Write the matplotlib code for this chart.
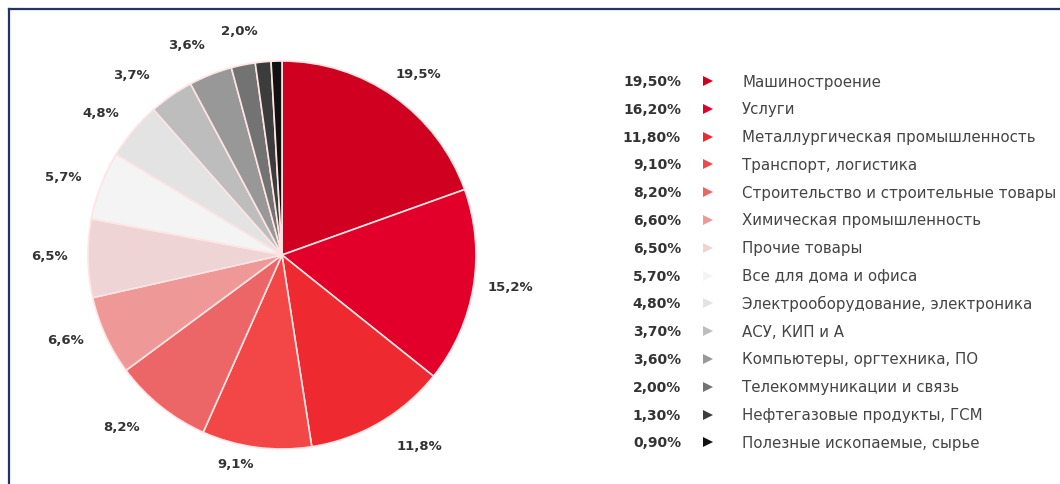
import matplotlib
matplotlib.use("Agg")
import matplotlib.pyplot as plt
from matplotlib.lines import Line2D
import numpy as np

plt.rcParams['font.family'] = ['DejaVu Sans']

# ---- data ----
categories = [
    "Машиностроение",
    "Услуги",
    "Металлургическая промышленность",
    "Транспорт, логистика",
    "Строительство и строительные товары",
    "Химическая промышленность",
    "Прочие товары",
    "Все для дома и офиса",
    "Электрооборудование, электроника",
    "АСУ, КИП и А",
    "Компьютеры, оргтехника, ПО",
    "Телекоммуникации и связь",
    "Нефтегазовые продукты, ГСМ",
    "Полезные ископаемые, сырье",
]
shares = [19.5, 16.2, 11.8, 9.1, 8.2, 6.6, 6.5, 5.7, 4.8, 3.7, 3.6, 2.0, 1.3, 0.9]
legend_values = ["19,50%", "16,20%", "11,80%", "9,10%", "8,20%", "6,60%", "6,50%",
                 "5,70%", "4,80%", "3,70%", "3,60%", "2,00%", "1,30%", "0,90%"]
pie_labels = ["19,5%", "15,2%", "11,8%", "9,1%", "8,2%", "6,6%", "6,5%",
              "5,7%", "4,8%", "3,7%", "3,6%", "2,0%", "", ""]
colors = ["#cf0020", "#e2002a", "#ee2a30", "#f34646", "#ec6668", "#ee9898",
          "#efd4d5", "#f4f4f4", "#e3e3e3", "#bdbdbd", "#989898", "#737373",
          "#3c3c3c", "#111111"]

W, H = 1060, 485
fig = plt.figure(figsize=(W / 100, H / 100), dpi=100)

# ---- pie ----
cx, cy, r_px = 282, 256, 194
lim = 1.25
size = 2 * lim * r_px
ax = fig.add_axes([(cx - size / 2) / W, ((H - cy) - size / 2) / H, size / W, size / H])
wedges, _ = ax.pie(shares, colors=colors, startangle=90, counterclock=False,
                   wedgeprops=dict(edgecolor="#ffe4e4", linewidth=1.2))
# label placement style: radial distance and small angular nudge (degrees)
label_dist = [1.17, 1.19, 1.21, 1.10, 1.21, 1.20, 1.20, 1.20, 1.19, 1.21, 1.19, 1.18, 1.18, 1.18]
label_nudge = [-1.7, 1.7, 5.8, -5.0, -4.3, -3.3, -0.8, 1.3, 1.8, 5.0, 2.8, -0.8, 0, 0]
for w, lab, d, nd in zip(wedges, pie_labels, label_dist, label_nudge):
    if not lab:
        continue
    th = np.deg2rad((w.theta1 + w.theta2) / 2 + nd)
    ax.text(d * np.cos(th), d * np.sin(th), lab, ha="center", va="center",
            fontsize=9.5, fontweight="bold", color="#333333")
ax.set_xlim(-lim, lim)
ax.set_ylim(-lim, lim)
ax.set_aspect("equal")
ax.axis("off")

# ---- legend ----
lax = fig.add_axes([0, 0, 1, 1])
lax.set_xlim(0, W)
lax.set_ylim(H, 0)
lax.axis("off")
y0, dy = 82, 27.8
for i, (val, name, col) in enumerate(zip(legend_values, categories, colors)):
    y = y0 + i * dy
    lax.text(681, y, val, ha="right", va="center", fontsize=10, fontweight="bold",
             color="#333333")
    lax.plot([708], [y], marker=">", markersize=7, color=col, markeredgewidth=0)
    lax.text(742, y, name, ha="left", va="center", fontsize=10.8, color="#444444")

# ---- border (top and left) ----
bcol = "#23346a"
fig.add_artist(Line2D([8.5 / W, 1], [1 - 9.5 / H, 1 - 9.5 / H], color=bcol, linewidth=1.6,
                      transform=fig.transFigure))
fig.add_artist(Line2D([8.5 / W, 8.5 / W], [0, 1 - 9.5 / H], color=bcol, linewidth=1.6,
                      transform=fig.transFigure))

fig.savefig("out.png", dpi=100, facecolor="white")
